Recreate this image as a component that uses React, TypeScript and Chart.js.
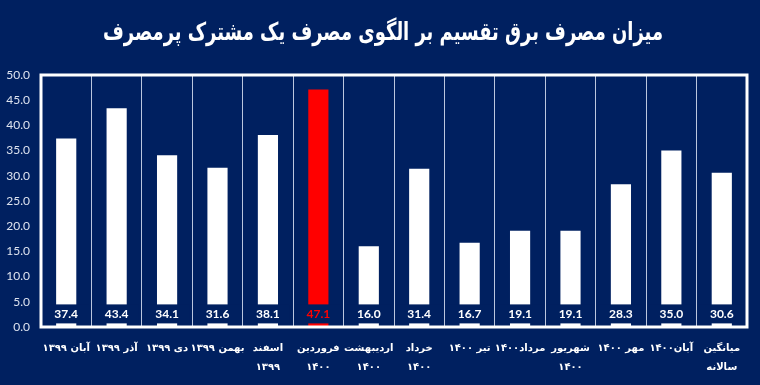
import React, { useEffect, useRef } from "react";
import { Chart, registerables } from "chart.js";
Chart.register(...registerables);

const TITLE = "میزان مصرف برق تقسیم بر الگوی مصرف یک مشترک پرمصرف";
const categories: (string | string[])[] = [
  "آبان ۱۳۹۹",
  "آذر ۱۳۹۹",
  "دی ۱۳۹۹",
  "بهمن ۱۳۹۹",
  ["اسفند", "۱۳۹۹"],
  ["فروردین", "۱۴۰۰"],
  ["اردیبهشت", "۱۴۰۰"],
  ["خرداد", "۱۴۰۰"],
  "تیر ۱۴۰۰",
  "مرداد۱۴۰۰",
  ["شهریور", "۱۴۰۰"],
  "مهر ۱۴۰۰",
  "آبان۱۴۰۰",
  ["میانگین", "سالانه"],
];
const values = [37.4, 43.4, 34.1, 31.6, 38.1, 47.1, 16.0, 31.4, 16.7, 19.1, 19.1, 28.3, 35.0, 30.6];
const highlightIndex = 5;
const yMin = 0;
const yMax = 50;
const yStep = 5;

const NAVY = "#002060";
const RED = "#ff0000";
const WHITE = "#ffffff";

export default function App() {
  const ref = useRef<HTMLCanvasElement | null>(null);
  useEffect(() => {
    if (!ref.current) return;
    const barColors = values.map((_, i) => (i === highlightIndex ? RED : WHITE));
    const framePlugin = {
      id: "frame",
      beforeDraw(chart: any) {
        const { ctx, width, height } = chart;
        ctx.save();
        ctx.fillStyle = NAVY;
        ctx.fillRect(0, 0, width, height);
        ctx.fillStyle = WHITE;
        ctx.font = "bold 25px 'DejaVu Sans'";
        ctx.textAlign = "center";
        ctx.textBaseline = "middle";
        const w = ctx.measureText(TITLE).width;
        const sx = Math.min(1, 560 / w);
        ctx.translate(383, 33);
        ctx.scale(sx, 1);
        ctx.fillText(TITLE, 0, 0);
        ctx.restore();
      },
      afterDatasetsDraw(chart: any) {
        const { ctx, chartArea } = chart;
        const meta = chart.getDatasetMeta(0);
        const yScale = chart.scales.y;
        const yc = yScale.getPixelForValue(2.6);
        ctx.save();
        meta.data.forEach((bar: any, i: number) => {
          ctx.fillStyle = NAVY;
          ctx.fillRect(bar.x - 22, yc - 9.5, 44, 19);
          ctx.fillStyle = i === highlightIndex ? RED : WHITE;
          ctx.font = "bold 12px Lato";
          ctx.textAlign = "center";
          ctx.textBaseline = "middle";
          ctx.fillText(values[i].toFixed(1), bar.x, yc + 0.5);
        });
        ctx.strokeStyle = WHITE;
        ctx.lineWidth = 3;
        ctx.strokeRect(chartArea.left, chartArea.top, chartArea.right - chartArea.left, chartArea.bottom - chartArea.top);
        ctx.restore();
      },
    };
    const chart = new Chart(ref.current, {
      type: "bar",
      data: {
        labels: categories,
        datasets: [
          {
            data: values,
            backgroundColor: barColors,
            borderWidth: 0,
            barPercentage: 0.4,
            categoryPercentage: 1,
          },
        ],
      },
      options: {
        animation: false,
        responsive: false,
        devicePixelRatio: 1,
        layout: { padding: { top: 75, right: 13, left: 0, bottom: 0 } },
        plugins: { legend: { display: false }, tooltip: { enabled: false }, title: { display: false } },
        scales: {
          x: {
            afterFit: (s: any) => {
              s.height = 58;
            },
            grid: { display: true, offset: true, color: "rgba(220,228,245,0.85)", lineWidth: 1, drawTicks: false },
            border: { display: false },
            ticks: {
              color: WHITE,
              font: { family: "'DejaVu Sans'", size: 10, weight: "bold", lineHeight: 1.9 },
              padding: 12,
              maxRotation: 0,
              minRotation: 0,
              autoSkip: false,
            },
          },
          y: {
            min: yMin,
            max: yMax,
            afterFit: (s: any) => {
              s.width = 41;
            },
            grid: { display: false, drawTicks: false },
            border: { display: false },
            ticks: {
              stepSize: yStep,
              color: "#dde3ef",
              font: { family: "Lato", size: 12 },
              padding: 11,
              callback: (v: any) => Number(v).toFixed(1),
            },
          },
        },
      },
      plugins: [framePlugin],
    });
    return () => chart.destroy();
  }, []);
  return (
    <div style={{ position: "absolute", left: 0, top: 0, width: 760, height: 385, background: NAVY }}>
      <canvas ref={ref} width={760} height={385} style={{ display: "block" }} />
    </div>
  );
}
